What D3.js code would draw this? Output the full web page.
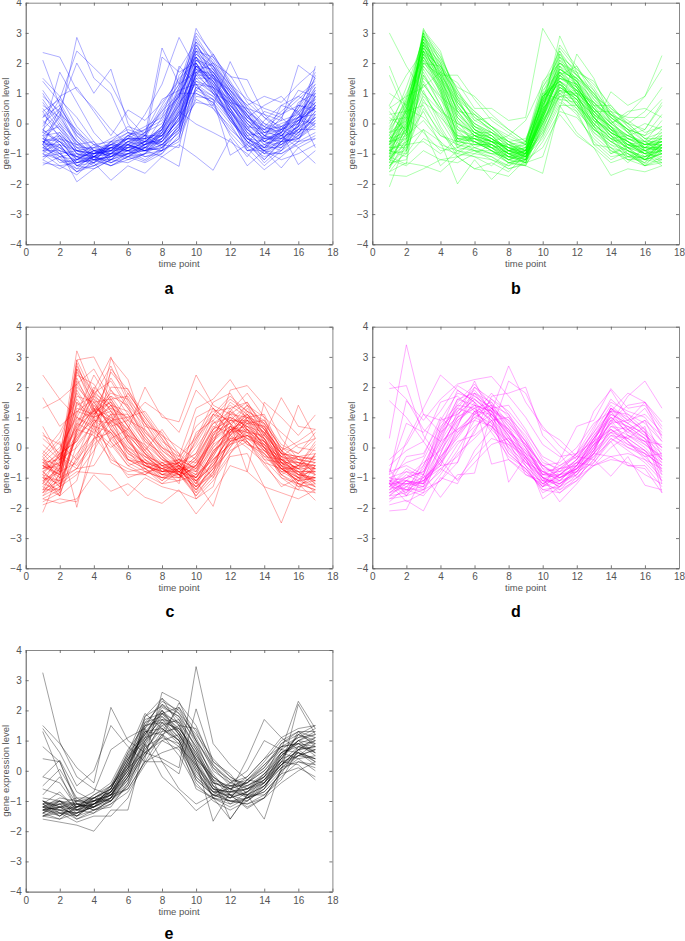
<!DOCTYPE html>
<html><head><meta charset="utf-8">
<script src="https://cdn.jsdelivr.net/npm/d3@7/dist/d3.min.js"></script>
<style>html,body{margin:0;padding:0;background:#fff}svg{display:block}</style>
</head><body><svg id="c" width="685" height="941"></svg>
<script>
const xTicks = [0,2,4,6,8,10,12,14,16,18];
const yTicks = [-4,-3,-2,-1,0,1,2,3,4];
const xTitle = "time point";
const yTitle = "gene expression level";

const seriesA = [
[2.35,2.2,1.1,0.5,-0.2,-0.7,-0.9,-0.7,-0.1,1.9,1.4,0.7,0.1,-0.4,-0.5,-0.1,0.6],
[2.1,0.6,-0.4,-0.9,-1.1,-0.8,-0.9,-0.6,0.2,2.1,1.7,1.0,0.3,-0.4,-0.7,-0.2,0.4],
[-0.4,0.2,2.85,1.5,1.0,-0.3,-0.6,-0.4,0.1,1.4,1.2,0.6,0.0,-0.5,-0.6,-0.5,-0.1],
[0.4,0.8,2.4,1.85,1.3,0.2,-0.4,-0.8,-0.3,1.1,1.6,0.9,0.2,-0.2,0.1,0.3,1.0],
[-0.7,0.5,2.0,1.0,1.8,0.0,-0.8,-0.9,-0.6,0.9,0.8,0.4,-0.3,-0.8,-0.4,0.1,0.5],
[-0.3,1.7,0.7,-0.3,-0.9,-0.9,-0.7,-0.5,0.3,1.6,2.3,1.4,0.5,-0.1,-0.4,-0.3,0.2],
[1.5,0.9,1.2,0.4,-0.4,0.45,0.1,0.7,1.4,2.6,1.9,0.8,0.0,-0.6,-0.3,0.4,1.2],
[1.1,0.3,-0.8,-1.2,-1.1,-0.7,-0.4,2.5,1.3,1.7,1.0,0.4,-0.2,-0.7,-0.5,-0.1,0.7],
[0.5,-0.2,-1.0,-1.3,-1.0,-0.9,-0.6,2.2,1.7,2.0,1.2,0.1,-0.6,-1.0,-0.7,0.0,0.9],
[-0.2,-0.6,-1.2,-0.9,-0.8,-0.5,0.3,1.3,2.85,1.8,1.6,0.9,0.3,-0.3,0.0,0.2,0.3],
[-1.38,-1.1,-1.6,-1.1,-1.0,-0.7,-0.9,-1.1,-1.42,1.3,0.6,-0.2,-0.7,-1.1,-0.9,-0.5,0.0],
[-0.6,-0.9,-1.93,-1.5,-1.2,-1.0,-1.25,-0.9,0.4,-0.02,-0.3,-0.6,-1.0,-1.53,-1.1,-0.6,-0.5],
[-0.8,-1.0,-1.4,-1.3,-1.88,-1.4,-1.65,-1.1,-0.7,-1.1,-1.55,-0.5,-1.4,-0.9,-1.47,-0.8,-1.32],
[-0.5,-0.8,-1.3,-1.1,-1.4,-1.2,-1.0,-0.9,0.0,0.7,0.6,2.05,0.9,0.2,-0.3,-1.36,-0.9],
[0.2,0.6,-0.5,-1.1,-0.6,-0.5,-0.5,0.5,1.3,2.4,2.2,1.55,1.45,0.3,0.1,1.93,1.5],
[-0.9,-1.2,-1.5,-1.4,-1.1,-0.9,-0.8,-0.4,0.5,1.9,1.4,0.5,-0.4,-0.9,-0.6,-0.1,1.9],
[-1.2,-1.5,-1.2,-0.9,-0.7,-0.4,-0.6,-0.1,1.0,2.9,2.0,1.2,0.6,0.9,0.7,1.3,1.8],
[-0.6,-0.5,-0.9,-1.0,-0.8,-0.6,-0.3,0.3,0.9,2.3,1.9,1.1,0.4,-0.1,-0.3,0.0,0.6],
[0.9,0.4,-0.7,-1.1,-1.3,-1.0,-0.8,-0.6,0.0,1.5,1.5,0.9,0.1,-0.5,-0.4,0.2,0.9],
[-0.7,-0.7,-0.9,-1.1,-0.9,-0.8,-0.7,-0.3,0.8,3.15,2.2,1.3,0.5,-0.2,-0.5,-0.2,0.3],
[-0.5,-0.6,-1.1,-1.0,-0.9,-0.4,-0.2,0.1,1.2,2.2,1.7,0.9,0.2,-0.3,-0.2,0.1,0.5],
[-1.0,-1.2,-1.3,-1.1,-0.8,-0.9,-0.6,-0.2,0.6,1.8,1.2,0.5,-0.3,-0.8,-0.8,-0.4,0.2],
[0.3,-0.2,-0.8,-0.8,-0.7,-0.5,-0.5,-0.7,-0.1,1.5,1.0,0.2,-0.6,-0.9,-0.7,-0.3,0.1],
[-0.4,-0.3,-1.0,-1.2,-1.4,-1.1,-1.0,-0.7,-0.2,1.2,0.9,0.3,-0.5,-0.9,-1.0,-0.6,-0.3],
[-0.8,-0.6,-1.2,-1.3,-1.0,-0.6,-0.8,-0.9,-0.5,2.0,1.3,0.6,0.1,-0.2,-0.1,0.4,0.8],
[0.0,0.5,-0.3,-0.7,-0.9,-0.4,-0.1,0.2,0.9,2.7,2.1,1.2,0.3,-0.4,-0.6,-0.5,0.1],
[-1.1,-0.8,-1.1,-1.2,-1.1,-0.8,-0.5,-0.4,0.4,1.6,1.1,0.2,-0.8,-1.4,-0.9,-0.3,0.4],
[-0.6,-1.0,-1.6,-1.3,-0.9,-1.2,-1.0,-0.5,0.7,2.5,1.6,0.8,0.0,-0.5,-0.3,0.3,1.1],
[-0.9,-0.4,-0.8,-1.0,-0.7,-0.7,-0.9,-0.8,-0.3,1.0,0.7,0.0,-0.9,-0.7,-0.4,-0.8,-0.5],
[1.4,0.7,-0.3,-0.9,-0.8,-0.9,-1.1,-0.9,-0.5,2.1,1.5,0.7,-0.2,-0.6,-0.8,-0.2,0.6],
[-0.2,-0.7,-1.4,-1.1,-1.2,-0.7,-0.6,-0.2,1.6,2.2,1.3,0.4,-0.4,-0.3,-0.1,0.1,0.7],
[-0.7,0.3,-0.2,-0.9,-1.0,-0.6,-0.4,-0.6,0.2,1.7,2.0,1.6,0.7,0.2,-0.1,-0.4,0.0],
[-1.3,-1.4,-1.7,-1.2,-0.8,-0.5,-0.7,-0.5,0.1,1.9,1.8,1.0,0.1,-0.4,-0.2,0.5,1.3],
[-0.5,-0.9,-1.1,-0.7,-0.6,-0.1,-0.3,0.0,1.1,2.4,1.4,0.6,-0.1,-0.7,-0.9,-0.1,1.6],
[0.6,0.2,-0.6,-1.0,-1.0,-1.1,-0.8,-0.3,0.3,1.4,1.0,0.1,-0.5,-0.8,-0.3,0.6,0.5],
[-0.8,-1.1,-1.0,-1.1,-1.3,-1.0,-0.7,-0.6,0.0,2.8,1.9,1.0,0.2,-0.1,0.4,0.9,0.6],
[-0.6,-0.8,-1.3,-1.2,-0.8,-0.8,-0.4,0.6,1.5,2.0,1.1,0.3,-0.7,-1.2,-0.6,-0.2,-0.2],
[-1.0,-0.5,-0.7,-0.9,-0.9,-0.5,-0.6,-0.1,0.9,2.3,1.7,0.8,0.3,-0.6,-0.2,0.0,0.8],
[0.1,-0.4,-1.1,-1.4,-1.2,-0.9,-0.9,-0.7,-0.8,1.7,1.3,0.5,-0.2,0.4,0.2,-0.3,0.2],
[-0.4,-1.0,-1.5,-1.0,-0.7,-0.9,-1.2,-0.8,0.5,2.6,1.8,1.1,0.4,-0.3,-0.4,0.1,1.2],
[-0.7,-1.3,-1.2,-0.8,-1.0,-0.6,-0.5,-0.2,1.9,1.3,0.9,0.2,-0.6,-1.0,-0.5,0.7,1.0],
[0.7,-0.1,-0.9,-1.2,-1.1,-0.6,-0.7,-0.4,0.4,2.2,1.6,0.6,-0.1,-0.2,0.3,0.6,0.4],
[-0.9,-0.7,-1.4,-1.1,-0.7,-0.8,-0.8,-0.5,0.6,1.9,1.1,0.4,-0.5,-0.6,-0.7,-0.4,0.9],
[-0.3,-0.6,-0.9,-1.0,-0.6,-0.3,-0.4,0.4,1.3,3.0,2.3,1.3,0.4,0.0,-0.2,0.2,0.5],
[-0.6,-0.4,-1.2,-1.1,-1.0,-1.0,-0.9,-0.8,-0.1,1.2,0.8,-1.05,-0.7,0.1,0.6,0.9,1.4],
[-0.1,0.8,0.2,-0.6,-1.3,-1.1,-0.8,-0.2,0.9,2.1,1.9,1.3,0.8,0.5,0.3,0.8,1.3],
[1.0,0.1,-0.6,-1.2,-1.4,-1.1,-0.7,-0.1,1.0,1.0,0.7,-0.4,-1.1,-0.4,0.2,1.1,0.9],
[-1.2,-0.7,-1.4,-1.5,-1.2,-0.7,-0.3,0.8,1.1,1.3,0.5,-0.3,-0.9,-0.9,-1.2,-1.0,-0.7],
[-0.5,0.0,-0.6,-1.1,-0.8,-0.7,-1.1,-1.0,-0.4,0.8,0.5,-0.1,-0.8,-0.5,0.6,0.4,-0.8],
[0.2,0.9,-0.1,-0.7,-1.2,-1.3,-1.0,-0.3,1.2,2.5,2.0,1.1,0.2,0.6,0.9,0.3,-0.1],
[-0.9,-0.9,-1.1,-1.3,-0.6,-0.9,-0.6,-0.7,-0.2,1.7,1.7,0.9,-0.1,-1.0,-1.0,-0.7,-0.4],
[-0.3,-0.1,-0.7,-0.6,-1.1,-1.0,-0.9,-0.2,0.7,1.3,1.2,0.8,-0.2,-0.6,-0.3,0.5,1.7],
[-0.7,-1.2,-1.6,-1.4,-1.0,-0.4,-0.7,0.2,1.8,2.7,1.5,0.5,-0.5,-0.8,-0.1,0.2,0.7],
[-1.1,-1.0,-0.9,-0.8,-0.5,-0.2,-0.4,-0.4,0.3,2.0,1.0,0.7,0.5,0.3,-0.2,-0.5,0.3],
[0.4,-0.5,-1.3,-1.0,-0.8,-1.1,-1.3,-1.0,-0.2,1.8,1.4,0.4,-0.4,-1.2,-0.6,0.2,1.1],
[-0.8,-0.3,-1.0,-1.1,-0.7,-0.3,-0.5,-0.3,0.6,2.4,1.8,0.7,-0.3,-0.5,-0.5,-0.6,0.6],
[-0.6,-1.1,-1.2,-0.9,-1.1,-0.8,-0.6,-0.6,0.2,1.1,0.8,0.1,-0.6,-1.3,-0.8,0.0,1.0],
[-0.2,0.4,-0.4,-1.0,-0.9,-0.5,-0.2,0.4,1.0,1.9,1.5,1.1,0.6,0.0,-0.4,-0.1,0.2],
[-1.0,-1.4,-1.3,-1.2,-1.2,-1.0,-0.7,-0.4,0.8,2.2,1.2,0.2,-0.5,-0.9,-0.2,0.6,1.5],
[0.8,0.0,-0.9,-1.0,-0.9,-0.7,-0.9,-0.5,0.1,1.6,1.6,0.3,-0.9,-0.8,-0.6,0.1,0.0]
];

const seriesB = [
[3.0,1.9,1.0,0.4,0.0,-0.3,-0.6,-1.0,-1.0,0.7,1.6,1.1,0.4,-0.1,-0.4,-0.7,-0.5],
[1.9,0.5,0.2,-0.4,-0.7,-0.8,-1.0,-1.1,-1.2,0.3,1.2,0.9,0.2,-0.3,-0.6,-0.9,-0.8],
[1.6,0.3,1.3,0.5,-0.5,-0.6,-0.8,-1.2,-0.9,0.9,1.4,0.6,0.0,-0.5,-0.7,-0.8,-0.3],
[0.6,1.6,2.4,1.6,1.6,0.8,0.1,-0.3,-0.7,0.5,1.1,1.0,0.5,0.0,0.3,0.9,2.25],
[1.0,0.6,2.0,1.9,1.2,0.9,0.3,-0.2,-0.6,1.0,0.8,0.7,-0.1,1.05,0.6,0.9,1.8],
[0.5,0.9,1.2,1.7,1.35,0.5,0.5,0.1,0.2,3.15,2.2,1.3,0.6,0.3,0.0,0.4,1.2],
[-2.1,-0.6,-0.2,-0.6,-2.0,-1.2,-1.85,-1.3,-1.4,-1.65,0.6,-0.3,-0.8,-1.72,-1.5,-1.6,-1.4],
[-1.7,-1.75,-1.5,-1.2,-1.1,-1.5,-1.6,-1.75,-1.2,-0.8,0.3,-0.4,-0.8,-1.3,-1.1,-0.9,-1.2],
[-1.6,-1.3,-1.4,-1.6,-1.1,-1.5,-1.3,-1.6,-1.0,-0.3,0.9,0.8,0.3,-1.0,-0.8,-1.35,-0.9],
[-1.2,-1.4,-0.9,-1.2,-1.3,-1.0,-1.1,-1.5,-1.3,-1.1,0.5,2.3,1.5,0.2,-0.2,-0.9,-1.3],
[-0.9,-1.1,-0.5,-0.8,-1.0,-0.6,-0.8,-1.1,-0.9,0.1,1.8,1.5,0.1,-0.5,-1.2,-1.1,-1.0],
[-1.4,-1.0,-0.2,-1.4,-0.9,-1.1,-1.4,-0.9,-1.1,0.4,2.9,1.7,0.6,-0.2,-0.9,-1.2,-0.7],
[-0.5,-0.3,3.15,2.0,0.6,-0.2,-0.5,-0.8,-1.1,0.2,1.4,0.9,0.1,-0.4,-0.8,-0.9,-0.7],
[-0.9,0.5,3.0,1.8,0.4,-0.3,-0.6,-1.0,-1.2,-0.2,1.2,0.8,0.0,-0.6,-0.9,-1.2,-1.0],
[-1.2,0.1,2.8,1.6,0.2,-0.4,-0.4,-0.9,-0.9,0.3,1.7,1.2,0.4,-0.2,-0.5,-0.8,-0.6],
[-0.7,0.7,2.6,1.9,0.7,0.0,-0.3,-0.7,-1.0,0.6,2.0,1.4,0.5,-0.1,-0.7,-1.0,-0.9],
[-1.0,-0.2,2.5,1.5,-0.1,-0.5,-0.7,-1.1,-1.3,-0.1,0.9,0.5,-0.2,-0.6,-1.0,-1.3,-0.8],
[-0.4,0.9,2.9,2.2,1.0,0.2,-0.2,-0.6,-0.8,0.8,2.5,1.8,1.2,0.3,-0.2,-0.6,-0.4],
[-1.5,-0.5,2.4,1.2,-0.4,-0.6,-0.9,-1.2,-1.4,0.0,1.3,0.7,-0.1,-0.8,-1.2,-1.4,-1.1],
[-0.6,0.3,2.7,1.7,0.5,-0.1,-0.5,-0.9,-1.0,0.4,1.5,1.1,0.6,0.0,-0.4,-0.7,-0.7],
[-0.8,-0.8,2.2,1.1,-0.7,-0.4,-0.6,-1.0,-1.1,0.2,1.9,1.3,0.2,-0.3,-0.6,-1.0,-0.5],
[-0.2,0.6,2.6,2.0,0.9,0.4,-0.1,-0.5,-0.7,1.2,2.2,1.6,0.9,0.5,0.1,-0.3,-0.1],
[-1.1,-1.35,2.0,1.4,0.1,-0.7,-0.8,-1.2,-1.0,0.5,1.0,0.6,-0.4,-0.9,-1.1,-1.15,-1.2],
[-0.5,0.2,3.0,1.3,-0.2,-0.5,-0.7,-0.9,-1.2,0.7,1.6,1.0,0.7,0.2,-0.3,-0.8,-0.8],
[-1.3,-0.1,1.8,0.9,-0.8,-0.9,-1.0,-1.3,-1.4,-0.4,0.7,0.4,-0.7,-1.2,-0.9,-1.4,-1.3],
[-0.3,0.8,2.3,1.5,0.3,-0.2,-0.4,-0.7,-0.9,0.9,2.1,1.2,0.3,-0.1,-0.5,-0.6,-0.6],
[-0.9,-0.6,1.4,0.4,-0.6,-0.3,-0.5,-0.8,-0.7,1.1,1.7,1.5,1.0,0.4,-0.1,-0.5,-0.3],
[-0.7,-0.1,2.1,1.0,-0.3,-0.6,-0.9,-1.1,-0.9,0.2,1.3,0.9,0.1,-0.2,-0.6,-0.9,-1.0],
[0.2,-0.2,0.9,0.2,-0.4,-0.5,-0.8,-1.0,-1.3,0.6,1.4,1.1,0.2,-0.4,-0.8,-0.7,-0.2],
[-1.0,-0.9,0.5,-0.3,-0.9,-0.7,-0.7,-1.2,-1.1,-0.2,1.1,0.7,-0.3,-0.7,-0.9,-1.1,-0.9],
[-0.6,-0.4,0.1,-0.6,-1.1,-0.8,-1.0,-0.9,-0.8,0.8,1.8,1.4,0.8,0.1,-0.3,0.0,-0.2],
[0.1,0.2,-0.3,-0.9,-0.8,-0.4,-0.6,-0.4,0.1,1.3,2.4,1.2,0.4,-0.2,-0.7,-1.0,-0.7],
[-1.1,-0.7,-0.6,-1.0,-0.5,-0.9,-1.2,-1.4,-1.0,0.0,1.0,0.4,-0.2,-0.5,-0.8,-1.2,-1.0],
[0.4,-0.4,1.6,0.8,0.0,-0.3,-0.3,-0.6,-1.1,0.3,1.6,1.9,0.9,0.3,0.0,-0.2,0.7],
[-0.8,-0.2,1.1,-0.1,-1.0,-1.1,-1.2,-1.5,-1.35,-0.6,0.4,0.2,-0.5,-1.0,-0.7,-0.8,-0.6],
[-0.4,0.4,2.4,1.6,0.8,0.3,-0.3,-0.8,-1.0,1.0,2.3,1.7,1.4,0.5,0.0,-0.5,-0.5],
[-1.3,-0.3,2.9,2.1,1.1,0.1,-0.2,-0.7,-1.2,0.4,1.5,1.3,0.3,-0.3,-0.9,-1.1,-0.7],
[-0.7,0.1,2.7,1.4,-0.5,-0.4,-0.6,-1.0,-0.9,0.7,2.6,1.9,1.1,0.0,-0.4,-0.6,-0.9],
[-0.9,-1.0,2.5,1.8,0.6,-0.1,-0.4,-0.9,-1.1,0.1,1.2,0.8,0.0,-0.5,-0.8,-1.0,-1.1],
[-0.5,0.5,2.2,1.3,0.2,-0.3,-0.5,-1.1,-1.0,0.5,1.9,1.0,-0.1,-0.4,-1.1,-1.3,-0.4],
[-1.2,-0.6,3.05,2.3,0.9,-0.2,-0.6,-0.8,-0.9,0.9,1.4,0.6,0.1,-0.3,-0.6,-0.9,-0.6],
[-0.1,0.7,1.9,1.1,-0.2,-0.4,-0.8,-0.7,-0.6,1.4,2.0,1.5,0.7,0.2,-0.2,-0.4,0.3],
[-1.6,-0.9,1.6,0.6,-0.5,-0.6,-0.9,-1.3,-1.2,-0.3,0.8,0.3,-0.6,-1.1,-1.0,-1.2,-0.8],
[-0.6,-0.5,0.4,-0.7,-0.9,-1.0,-0.7,-1.0,-0.8,0.6,1.7,1.3,0.5,0.0,0.4,0.5,0.2],
[-0.9,0.0,2.8,1.7,0.4,-0.2,-0.5,-0.9,-1.0,0.3,2.1,1.6,1.0,0.3,-0.3,-0.8,-0.9],
[-1.4,-0.8,2.3,1.0,-0.6,-0.7,-0.7,-1.1,-1.2,0.0,1.1,0.9,0.2,-0.4,-0.7,-1.0,-0.8],
[-0.3,0.1,2.1,1.5,0.7,0.1,0.2,-0.2,-0.6,0.8,1.3,0.8,-0.2,-0.6,-0.5,-0.7,-0.6],
[-0.7,-0.3,2.6,1.2,0.0,-0.4,-0.6,-0.8,-1.1,0.2,1.6,1.1,0.3,-0.1,-0.6,-1.1,-0.7],
[-1.1,0.4,2.4,1.9,0.8,-0.1,-0.4,-1.0,-0.9,0.6,1.8,1.4,0.6,0.6,-0.1,-0.6,-1.0],
[-0.8,-0.7,1.0,0.1,-0.8,-0.5,-0.9,-1.2,-1.3,0.1,0.9,1.0,-0.7,-0.8,-1.3,-0.8,-0.9],
[0.6,-0.3,1.5,0.9,0.4,0.3,-0.1,-0.4,-0.7,0.9,1.3,0.9,0.0,-0.5,-0.4,-0.2,0.6],
[-0.4,-0.9,0.7,0.3,-0.7,-0.9,-1.1,-1.4,-1.2,0.3,1.5,1.2,0.4,-0.3,-0.7,-0.6,0.1],
[-1.2,-0.4,1.3,0.5,-0.2,-0.8,-0.6,-0.7,-1.0,-0.4,1.0,1.1,0.7,0.1,-0.6,-1.0,-1.4],
[-1.5,0.0,2.7,2.0,0.3,-0.3,-0.7,-1.1,-1.3,0.4,1.7,1.0,0.2,-0.4,-1.0,-1.4,-0.8],
[0.0,1.0,2.2,1.4,0.5,0.0,-0.3,-0.6,-0.5,0.7,2.0,1.6,1.1,0.4,-0.3,-0.7,-0.6],
[-1.0,0.2,2.9,1.6,-0.1,-0.6,-0.9,-1.2,-1.0,0.0,1.3,0.6,-0.2,-0.7,-1.1,-1.1,-0.9],
[-0.8,0.6,2.5,1.8,1.0,0.4,-0.1,-0.6,-0.9,0.8,1.9,1.5,0.9,0.2,-0.2,-0.9,-0.7],
[-1.3,-1.2,1.9,1.2,-0.4,-0.5,-0.8,-1.3,-1.2,0.2,1.6,1.2,0.4,-0.1,-0.8,-1.2,-1.0],
[-0.6,0.4,3.1,2.4,0.7,0.0,-0.4,-0.9,-1.1,0.5,2.3,1.4,0.7,0.0,-0.5,-0.7,-0.5],
[-0.3,-0.1,1.7,0.6,-0.6,-0.5,-0.6,-0.9,-0.6,1.2,2.0,1.7,0.8,0.3,-0.2,-0.4,-0.1],
[-1.1,0.3,2.6,1.3,0.1,-0.4,-0.7,-1.0,-1.3,0.1,1.1,0.5,-0.3,-0.8,-1.0,-1.4,-1.2],
[-0.9,-0.5,2.3,1.7,0.6,-0.2,-0.5,-0.9,-0.8,0.9,1.5,1.3,0.5,-0.2,-0.7,-0.9,-0.6],
[-0.2,1.2,2.8,2.1,0.8,-0.1,-0.3,-0.8,-1.0,0.4,2.2,1.8,1.3,0.6,0.0,-0.5,-0.8],
[-1.4,-0.7,0.8,-0.2,-1.1,-0.9,-0.9,-1.3,-1.1,-0.5,0.6,0.6,-0.1,-0.9,-1.2,-1.2,-1.3],
[0.3,0.4,0.6,-0.4,-0.6,-0.7,-0.5,-0.9,-0.7,1.0,1.4,0.9,0.4,0.4,0.2,0.2,0.8],
[-0.7,0.8,2.9,1.9,0.9,0.2,-0.2,-0.7,-0.9,0.6,1.7,1.1,0.2,-0.3,-0.6,-0.8,-0.4],
[-1.2,-0.3,2.4,1.1,-0.5,-0.5,-0.7,-1.0,-1.2,-0.1,1.4,1.0,0.5,-0.1,-0.8,-1.0,-0.9],
[-0.5,0.0,2.0,1.6,0.4,-0.3,-0.6,-0.8,-1.0,0.3,1.8,1.4,0.3,-0.2,-0.4,-0.7,-0.7],
[-1.0,0.5,2.7,1.5,0.2,-0.4,-0.8,-1.1,-1.1,0.2,1.2,0.8,-0.1,-0.6,-0.9,-1.2,-0.7],
[-0.6,-0.2,3.0,2.2,1.1,0.3,-0.1,-0.6,-0.9,0.7,2.4,1.6,1.0,0.1,-0.5,-0.8,-0.8]
];

const seriesC = [
[2.4,1.6,1.0,0.7,0.5,-0.1,-0.5,-0.7,-0.9,-0.5,0.2,0.7,0.5,0.2,-0.4,-0.5,-0.7],
[1.65,0.7,1.2,1.0,1.2,0.4,-0.2,-0.6,-0.8,-1.0,-0.3,0.6,0.7,0.1,-0.6,-0.9,-1.0],
[1.3,1.6,2.1,1.2,0.9,0.1,-0.6,-0.8,-0.5,0.4,1.1,1.7,1.2,0.4,-0.2,-0.3,-0.4],
[0.7,-0.3,0.7,1.9,3.0,1.6,0.5,0.0,-0.6,-1.3,-0.7,0.1,0.5,0.4,-0.2,-0.6,-0.9],
[0.5,-0.4,3.2,1.8,1.4,0.4,0.1,-0.4,-0.7,-0.6,0.4,1.2,0.8,0.0,-0.7,-1.1,-0.6],
[-2.15,-0.8,2.9,3.0,1.9,1.1,0.3,-0.3,-0.8,-1.2,-0.1,0.4,1.0,0.6,-0.4,-0.7,-1.2],
[-0.4,0.2,-1.98,0.3,2.95,2.25,0.6,-0.2,-0.9,-1.6,-0.8,0.2,0.6,0.2,-0.3,-0.4,-0.5],
[-1.9,-1.7,-1.8,-0.2,2.6,1.9,1.1,0.3,-0.4,-1.1,-1.95,-0.2,0.4,0.0,-1.0,-1.2,-1.75],
[-1.7,-1.85,-1.7,-0.9,-1.45,-1.2,-1.65,-1.85,-1.4,-2.2,-1.5,-0.6,-0.8,-1.3,-1.5,-1.7,-1.4],
[-1.5,-1.2,-0.8,-0.85,-0.9,-1.6,-1.0,-1.3,-1.45,-1.7,-1.1,-0.3,-0.2,-1.3,-2.5,-1.1,-1.0],
[-0.6,-1.0,-0.7,-0.6,0.3,0.6,2.0,1.0,0.85,2.4,1.4,1.1,1.0,0.5,-0.2,1.4,0.3],
[-0.8,-1.3,0.4,1.4,0.7,0.9,1.5,1.1,0.5,1.9,1.3,0.8,-0.8,1.5,1.0,0.4,1.08],
[-1.2,-0.6,1.5,1.0,2.0,1.95,0.8,0.4,-0.3,1.3,1.6,2.25,1.4,0.4,1.65,0.7,0.6],
[-1.0,-1.5,2.7,1.6,1.1,0.2,-0.4,-0.8,-0.6,-0.9,0.1,1.9,2.05,1.4,0.3,-0.4,-0.5],
[-0.7,-0.5,2.5,1.5,0.7,-0.2,-0.6,-0.9,-0.7,-1.4,-0.6,0.2,0.9,0.7,-0.5,-0.8,-1.1],
[-1.4,-1.1,2.8,1.3,0.3,-0.3,-0.6,-0.8,-0.8,-1.0,-0.2,0.5,1.1,0.5,-0.6,-1.2,-1.4],
[-0.9,-0.2,2.6,1.8,0.9,0.5,-0.1,-0.6,-0.4,-0.5,0.6,0.9,1.4,0.8,0.0,-0.4,-0.3],
[-0.5,-0.8,2.3,1.1,1.5,0.9,0.2,-0.2,-0.7,-0.8,0.3,1.0,0.7,0.3,-0.5,-0.9,-0.8],
[-1.7,-1.4,2.0,1.4,0.8,-0.1,-0.5,-1.0,-0.9,-1.5,-0.4,0.3,0.4,0.1,-0.9,-1.3,-1.2],
[-0.3,0.3,1.8,0.9,0.5,-0.4,-0.7,-1.1,-0.6,-0.2,0.8,1.2,0.6,-0.1,-0.7,-1.0,-0.2],
[-1.1,-0.7,0.9,1.2,1.8,1.6,0.9,0.1,-0.5,-1.2,-0.5,0.4,0.8,0.9,-0.1,-0.6,-0.7],
[-0.6,-0.9,0.3,1.0,2.5,1.8,1.0,0.3,-0.7,-1.0,0.0,0.6,0.3,0.1,-0.4,-0.7,-0.9],
[-1.3,-1.6,0.1,0.8,1.4,1.2,0.4,-0.3,-0.9,-1.4,-0.8,0.0,0.7,0.5,-0.3,-1.0,-1.3],
[-0.8,-0.3,0.6,1.5,1.6,0.8,0.0,-0.5,-0.4,-0.7,0.5,0.8,1.1,0.3,-0.5,-0.5,-0.6],
[-1.0,-1.2,-0.4,0.7,1.9,1.3,0.5,-0.1,-0.6,-1.1,-0.3,0.7,0.4,-0.2,-0.8,-1.1,-1.0],
[-0.4,-0.6,0.8,1.9,1.2,0.2,-0.3,-0.7,-1.0,-0.6,0.2,1.1,1.5,0.7,-0.2,-0.3,-0.4],
[-1.6,-1.0,-0.2,0.5,1.0,0.6,-0.2,-0.9,-0.9,-1.3,-0.7,-0.1,0.2,-0.4,-1.0,-1.4,-1.5],
[-0.7,-0.1,1.1,2.4,1.5,0.7,-0.1,-0.8,-0.8,-0.3,0.9,1.4,1.0,0.2,-0.6,-0.8,-0.8],
[-1.2,-1.4,0.5,1.3,0.2,-0.4,-0.5,-0.7,-0.5,-1.2,-0.1,0.3,0.9,0.4,-0.4,-0.9,-1.1],
[-0.5,-0.4,1.4,1.7,1.3,0.3,-0.4,-0.9,-0.8,-0.4,0.7,0.5,0.6,0.0,-0.9,-0.6,0.1],
[-0.9,-1.1,-0.7,0.3,0.9,0.4,-0.7,-1.0,-1.1,-0.9,-0.4,0.1,0.3,-0.2,-0.7,-1.0,-0.7],
[0.3,-0.2,0.2,1.1,1.7,0.9,0.6,0.0,-0.3,0.3,1.0,1.6,1.2,0.9,0.1,-0.2,0.5],
[-1.5,-0.9,1.2,1.6,0.6,-0.2,-0.5,-1.1,-0.7,-1.3,-0.2,0.6,0.5,-0.1,-0.6,-1.3,-0.9],
[-0.6,-0.7,1.9,1.0,-0.3,-0.9,-0.9,-0.6,-0.5,0.1,1.1,0.9,0.8,0.3,-0.3,-0.5,-0.6],
[0.1,-0.4,0.4,0.9,0.8,1.8,1.0,0.2,-0.2,-0.8,0.4,1.3,0.6,-0.4,-0.5,-0.8,-1.2],
[-0.8,-1.3,0.7,1.2,2.3,1.4,0.7,0.5,-0.6,-1.5,-0.9,0.0,1.0,1.1,-0.1,-0.9,-0.5],
[-1.1,-0.8,-0.5,0.6,1.1,-0.4,-0.6,-0.9,-1.0,-0.6,0.3,0.7,0.2,-0.3,-0.8,-0.6,-0.3],
[-0.2,0.5,1.6,0.8,-0.2,-1.0,-0.8,-1.0,-0.7,0.0,0.8,1.0,0.7,0.1,-0.5,-0.7,0.0],
[-1.8,-1.5,-0.3,1.0,1.3,1.0,0.3,-0.4,-0.8,-1.1,-0.6,0.2,0.4,-0.1,-0.7,-1.1,-1.3],
[-0.7,-0.6,2.2,1.3,0.4,-0.5,-0.8,-0.7,-0.9,-0.7,0.1,0.5,1.3,0.6,-0.2,-0.4,-0.7],
[-1.0,-0.4,0.0,0.8,1.6,1.7,0.8,-0.1,-0.5,-1.0,-0.2,0.9,0.9,0.2,-0.6,-1.0,-1.0],
[-0.4,-1.0,1.0,2.0,1.4,0.5,-0.3,-0.5,-0.9,-0.4,0.6,1.1,0.5,-0.3,-0.4,-0.7,-0.4],
[-1.3,-0.7,2.9,1.7,0.8,0.0,-0.5,-0.9,-0.6,-1.1,-0.5,0.4,1.2,0.8,-0.5,-1.2,-1.1],
[-0.6,-0.2,0.2,1.3,1.0,0.3,-0.6,-0.8,-0.7,0.2,1.3,0.8,0.3,0.0,-0.6,-0.3,-0.2],
[-0.9,-1.6,0.6,0.4,-0.4,-0.7,-0.9,-1.2,-0.8,-1.6,-1.0,-0.2,0.6,0.3,-0.8,-0.8,-0.8],
[-1.4,-0.5,2.4,2.1,1.2,0.6,0.0,-0.6,-0.5,-0.8,0.0,0.6,0.9,0.5,-0.3,-0.6,-0.6],
[-0.5,-0.9,1.3,1.1,1.7,1.4,0.2,-0.4,-0.6,-0.9,0.4,0.8,0.1,-0.2,-0.9,-1.2,-1.4],
[-0.7,-0.3,-0.7,0.1,0.6,0.0,-0.3,-0.7,-0.4,0.7,1.2,1.3,1.5,0.6,-0.1,0.2,0.6],
[0.4,0.1,-0.4,0.3,0.5,-0.4,-0.7,-0.5,-0.9,-1.3,-0.9,1.2,1.8,1.0,0.5,0.0,-0.1],
[-1.6,-1.3,-0.9,-0.1,0.9,1.0,1.2,0.4,0.0,-0.4,-1.0,0.3,0.2,-0.5,-0.7,-0.6,0.2],
[-0.2,-0.8,0.8,0.5,0.0,0.4,-0.2,-0.6,-1.2,1.0,1.3,0.4,0.0,-0.5,-1.3,-1.0,-1.1],
[-1.1,-1.6,-1.1,0.9,1.4,0.7,-0.1,0.6,-0.2,-1.7,-1.3,0.5,1.1,0.6,-0.1,-0.5,-0.8],
[-0.8,-0.5,1.7,1.5,0.6,-0.1,-0.8,-1.0,-1.0,0.3,1.5,1.8,0.9,0.0,-0.3,0.1,0.3],
[-1.5,-0.7,2.6,1.2,0.2,-0.6,-0.4,-0.7,-0.6,-1.0,-0.4,0.1,0.8,0.7,-0.2,-0.8,-1.3],
[-0.3,-1.2,0.5,1.8,2.2,1.3,0.4,-0.3,-0.8,-0.6,0.5,1.0,0.2,-0.6,-1.2,-1.4,-0.6],
[-1.2,-0.2,-0.6,0.2,1.1,1.1,0.1,-0.8,-0.7,-1.4,-0.7,0.7,1.4,1.0,-0.4,-0.3,-0.9],
[-0.6,-0.9,1.5,0.7,-0.5,-0.8,-0.7,-1.2,-1.1,0.5,0.9,0.2,0.4,0.2,-0.7,-1.1,-0.2],
[-1.0,-1.1,2.1,2.6,1.6,0.7,-0.2,-0.8,-0.5,-0.2,1.1,0.6,0.1,-0.1,-0.4,-0.9,-1.0],
[-0.1,-0.6,0.3,1.2,1.5,0.2,-0.5,-0.6,-0.9,-1.1,-0.6,0.5,1.0,0.8,0.0,-0.2,0.3],
[-1.4,-1.4,0.6,1.7,2.7,1.5,0.8,0.0,-0.4,-0.7,0.2,0.9,0.6,0.0,-0.5,-1.0,-1.5],
[-0.5,0.0,1.0,0.6,0.1,-0.6,-0.9,-0.5,-0.8,-0.3,0.6,1.5,1.1,0.3,-0.7,-0.7,-0.7]
];

const seriesD = [
[2.15,1.6,0.6,0.2,0.6,0.9,0.7,0.2,-0.2,-0.6,-0.9,-0.7,-0.2,0.5,0.7,0.3,-0.4],
[1.95,2.05,0.4,-0.4,-1.1,-0.5,0.1,0.3,-0.1,-0.8,-1.1,-0.6,0.1,0.6,0.3,-0.1,-0.5],
[1.55,1.0,0.2,-0.6,-0.5,1.2,1.4,1.1,0.0,-0.9,-0.6,-0.3,0.3,1.1,0.8,0.4,0.0],
[0.3,3.4,1.1,0.5,1.0,1.4,1.2,0.4,-0.5,-1.1,-0.7,-0.2,0.2,0.8,1.7,2.2,1.3],
[-0.9,1.55,0.9,1.6,2.1,2.25,2.35,1.7,1.0,0.1,-0.3,-0.2,0.5,1.2,1.8,1.5,0.85],
[-1.2,0.2,1.3,2.4,1.9,1.5,-0.55,-0.4,-0.8,-1.3,-0.4,0.7,0.9,1.95,1.3,1.4,0.6],
[-2.1,-2.05,-0.9,-1.65,-0.9,-0.85,1.2,2.7,1.5,0.7,0.05,-0.4,0.2,1.3,0.9,0.6,-1.5],
[-1.9,-1.75,-2.1,-1.0,-1.2,-0.1,0.6,2.2,1.8,0.6,0.25,-0.3,-0.4,-0.95,-0.3,-1.25,-1.4],
[-1.7,-1.6,-1.4,-0.7,-0.3,0.5,1.7,1.8,2.0,0.4,-0.2,-1.0,-0.6,-0.3,-0.6,-0.7,-1.5],
[-1.5,-1.1,-1.2,-0.5,0.6,1.1,1.4,-1.15,-0.3,-1.7,-1.3,-0.7,-0.2,0.4,0.1,-0.2,-1.1],
[-1.2,-1.2,-1.0,0.0,1.0,2.2,1.0,0.3,-0.3,-1.0,-1.8,-1.2,-0.5,0.2,0.6,0.9,-0.3],
[-1.1,-1.0,-0.8,0.3,1.4,1.9,1.2,0.5,0.0,-0.8,-1.0,-0.7,0.1,1.0,0.5,0.2,-0.5],
[-1.3,-1.4,-1.1,-0.4,0.8,1.5,1.0,0.2,-0.4,-1.2,-1.4,-0.9,-0.1,0.9,0.7,0.3,-0.2],
[-1.6,-1.2,-1.3,-0.2,1.2,1.7,1.3,0.6,-0.1,-0.9,-0.9,-0.5,0.3,1.3,1.0,0.5,-0.8],
[-1.0,-1.1,-0.6,0.5,1.6,1.4,0.9,0.0,-0.5,-1.0,-1.2,-0.8,0.0,0.7,0.4,0.0,-0.6],
[-1.4,-0.9,-1.2,0.1,0.9,1.3,1.5,0.8,0.2,-0.7,-0.8,-0.4,0.4,1.2,1.1,0.8,0.2],
[-0.8,-0.6,-0.9,0.9,1.8,1.6,1.1,0.4,-0.3,-1.1,-1.1,-0.6,0.2,0.6,0.2,-0.4,-1.0],
[-1.2,-1.6,-1.0,-0.6,0.4,1.0,0.7,-0.2,-0.7,-1.4,-1.5,-1.0,-0.4,0.3,0.0,-0.3,-0.9],
[-1.8,-1.3,-0.7,0.4,1.3,2.0,1.6,1.0,0.4,-0.5,-0.7,-0.3,0.5,1.4,0.9,1.5,0.3],
[-1.1,-1.4,-1.3,-0.8,0.1,0.7,1.1,0.5,-0.2,-0.9,-1.0,-0.7,-0.3,0.4,0.3,-0.1,-0.7],
[-0.6,-0.1,0.2,1.5,1.7,1.2,0.7,0.1,-0.6,-1.2,-0.9,-0.4,0.6,1.6,1.1,0.6,0.0],
[-1.5,-1.1,-1.4,-1.1,-0.2,0.3,0.9,1.0,0.2,-0.6,-0.5,0.0,0.8,1.2,0.6,0.1,-0.4],
[-1.3,-1.0,-0.5,-0.1,0.7,1.8,1.3,0.7,0.1,-1.0,-1.3,-0.8,-0.1,0.5,0.3,0.7,-1.2],
[-0.4,0.1,1.1,0.9,1.1,1.6,1.2,0.3,-0.4,-1.3,-1.1,-0.5,0.1,0.8,0.2,-0.2,-0.6],
[-1.2,-1.8,-1.5,-1.1,-0.5,0.6,1.3,1.4,0.6,-0.4,-0.8,-0.6,0.3,1.0,0.5,0.9,0.4],
[-1.6,-1.5,-0.9,0.2,1.5,2.1,1.4,-0.1,-0.6,-1.5,-1.2,-0.9,-0.3,0.2,-0.6,-0.6,-1.3],
[-1.0,-0.8,-1.1,-0.3,0.3,1.1,1.8,1.1,0.3,-0.7,-1.4,-1.1,-0.6,0.0,0.4,0.1,-0.3],
[-1.4,-1.2,-1.2,0.6,1.9,1.5,0.8,-0.4,-0.9,-1.2,-1.0,-0.7,0.0,1.1,0.8,0.4,-0.1],
[-0.9,-0.5,-0.3,1.0,0.5,1.2,0.6,0.0,-0.8,-1.3,-0.9,-0.8,-0.5,0.3,-0.1,-0.5,-1.1],
[-1.7,-1.4,-1.6,-0.9,-0.1,0.9,1.6,1.2,0.5,-0.3,-0.6,-0.2,0.7,1.5,1.2,1.0,0.2],
[-1.1,-1.5,-0.4,0.7,1.2,1.8,1.0,0.6,-0.2,-1.1,-1.5,-1.1,-0.2,0.6,0.1,-0.1,-0.8],
[-1.3,-0.7,-1.0,-0.5,0.2,0.4,0.9,0.2,-0.5,-0.8,-0.7,-0.5,-0.6,-0.4,-0.5,-0.9,-1.2],
[-0.8,0.8,0.5,1.2,2.05,1.7,1.3,0.8,0.1,-0.6,-1.0,-0.6,0.3,0.9,1.4,1.5,0.7],
[-1.5,-1.3,-1.1,-0.7,-1.05,-0.3,0.3,0.1,-0.3,-1.0,-1.2,-0.8,-0.2,-0.3,-0.2,-0.4,-0.7],
[-1.2,-0.3,-0.2,0.8,1.4,1.3,0.5,-0.3,-0.7,-1.4,-1.3,-1.0,-0.4,0.7,0.6,0.2,0.1],
[-1.0,-1.3,-1.5,-0.2,0.9,1.4,1.2,0.9,0.2,-0.9,-0.8,-0.2,1.2,1.9,1.0,0.5,-0.4],
[-1.2,-1.1,-1.2,-0.4,0.5,1.0,1.3,0.9,0.0,-1.0,-0.9,-0.5,-0.1,1.3,0.6,0.3,-0.9],
[-1.4,-1.0,-0.8,0.2,1.1,1.6,1.1,0.4,-0.6,-1.2,-0.7,-0.6,0.0,0.8,0.9,1.1,0.5],
[-1.1,-1.2,-1.1,-0.6,0.7,2.0,1.4,0.7,-0.3,-0.8,-1.1,-0.9,-0.2,1.2,0.4,0.2,-0.4],
[-0.7,-1.6,-0.6,0.6,1.3,1.1,0.8,0.2,-0.9,-1.1,-1.2,-0.7,0.1,0.5,0.0,-0.2,-0.6],
[-1.6,-1.1,-1.3,0.0,1.0,1.3,0.9,-0.2,-0.7,-1.3,-0.9,-0.4,0.4,1.0,0.7,0.5,0.0],
[-1.3,-0.8,-0.9,0.4,1.6,1.8,1.5,0.5,0.1,-0.6,-1.0,-0.8,-0.1,0.9,0.2,-0.3,-0.2],
[-1.2,-1.4,-1.4,-0.3,0.4,1.2,1.1,0.6,-0.4,-1.0,-1.3,-0.6,0.2,1.3,0.8,1.3,0.4]
];

const seriesE = [
[3.25,0.95,-0.2,-0.6,-0.8,-0.6,0.3,1.2,0.8,-0.2,-0.8,-1.0,-0.9,-0.5,0.2,0.7,0.8],
[1.5,0.9,0.1,-0.4,2.1,1.0,0.6,0.4,0.1,3.45,0.9,0.2,-0.3,-0.4,0.2,0.5,0.4],
[1.4,0.6,-0.5,0.0,1.5,0.8,0.3,0.3,-0.1,2.05,0.3,-0.1,-0.8,-1.6,0.1,0.6,0.3],
[1.3,-0.1,-1.3,-1.2,-0.5,0.1,0.6,1.0,1.2,0.3,-1.67,-0.7,0.4,1.7,1.1,0.7,1.0],
[0.8,0.3,-1.1,-0.9,-1.0,-0.2,0.9,-0.2,-0.7,-1.32,-0.9,-1.6,-0.8,-0.3,0.4,1.2,1.5],
[0.4,0.3,-1.0,-0.7,0.7,1.1,1.4,0.3,-0.6,-1.1,-0.8,-0.4,0.0,1.0,0.7,2.3,1.4],
[-1.6,-1.7,-1.8,-2.0,-1.3,-1.3,0.9,1.9,1.2,0.4,-0.3,-0.8,-1.25,-0.9,0.0,2.2,1.2],
[-1.5,-1.4,-1.7,-1.5,-1.5,-0.9,0.4,2.6,2.3,1.0,-0.3,-1.6,-0.8,-0.8,-0.3,0.7,0.8],
[-1.3,-1.2,-1.5,-1.3,-1.2,-0.4,1.8,2.4,1.5,1.4,0.3,-0.2,-0.5,-0.2,0.6,0.9,1.1],
[-1.2,-1.3,-1.2,-1.0,-0.8,0.1,1.2,2.1,1.8,0.7,-0.5,-0.8,-0.6,-0.3,0.5,1.0,0.9],
[-1.1,-1.1,-1.3,-1.1,-0.7,0.2,1.4,2.0,1.5,0.4,-0.6,-0.9,-0.7,-0.2,0.3,0.8,0.6],
[-1.4,-1.0,-1.1,-1.2,-0.9,-0.1,1.0,1.8,1.3,0.2,-0.7,-0.7,-0.8,-0.5,0.1,0.5,0.7],
[-1.0,-1.4,-1.4,-0.9,-0.6,0.4,1.6,2.2,1.9,0.9,-0.2,-0.6,-0.4,0.0,0.7,1.1,1.2],
[-1.3,-1.5,-1.0,-1.0,-0.8,0.0,0.9,1.6,1.1,0.0,-0.8,-1.0,-1.0,-0.6,0.0,0.4,0.5],
[-1.2,-1.1,-1.6,-1.3,-1.0,-0.3,0.7,1.5,1.7,0.5,-0.4,-0.5,-0.5,-0.1,0.4,1.2,1.0],
[-1.5,-1.2,-1.2,-0.8,-0.5,0.5,1.7,1.9,1.4,0.6,-0.5,-0.9,-0.3,0.1,0.9,1.3,1.3],
[-0.2,-0.4,-1.2,-1.1,-0.7,0.3,1.5,2.3,2.0,1.1,0.0,-0.4,-0.6,-0.4,0.2,0.6,0.4],
[-0.5,0.05,-0.9,-1.2,-0.9,-0.2,0.8,1.7,1.6,0.3,-0.9,-1.1,-0.9,-0.7,-0.1,0.1,-0.2],
[-1.1,-0.7,-1.3,-1.4,-1.1,-0.5,0.5,1.3,2.1,1.0,0.1,-0.3,-0.9,-0.4,0.6,1.0,0.6],
[-0.9,-1.0,-1.5,-1.1,-0.6,0.6,1.9,1.4,1.0,-0.1,-0.7,-1.0,-1.1,-0.8,-0.2,0.3,0.1],
[-1.4,-1.6,-1.4,-1.2,-0.8,0.2,1.1,2.2,1.7,0.8,-0.4,-0.6,-0.2,0.4,1.1,1.4,1.5],
[-1.2,-0.9,-1.0,-0.9,-0.7,0.0,1.3,1.2,0.5,-0.5,-0.9,-1.2,-0.9,-0.6,0.3,0.2,-0.3],
[-1.0,-1.2,-1.1,-1.0,-1.0,-0.4,0.6,1.1,2.25,1.5,0.2,-0.3,-0.4,0.2,0.8,0.9,0.8],
[-1.3,-1.4,-1.3,-1.1,-0.9,0.1,1.6,1.8,1.2,0.1,-0.6,-0.7,-0.6,-0.3,0.2,0.7,1.1],
[-0.2,0.35,-0.7,-1.0,-0.8,-0.1,0.7,1.4,0.9,-0.3,-0.8,-0.8,-1.2,-0.9,-0.4,0.0,0.3],
[-1.5,-1.3,-1.6,-1.4,-0.9,-0.6,0.3,0.6,0.8,0.2,-0.5,-1.1,-0.7,-0.1,0.5,0.9,0.6],
[-1.1,-1.0,-1.2,-0.8,-0.4,0.7,1.5,1.6,1.4,0.7,-0.3,-0.5,-0.4,0.0,0.6,0.8,0.7],
[-1.2,-1.5,-1.1,-1.3,-1.1,-0.7,0.2,1.0,0.7,-0.4,-1.0,-1.3,-1.0,-0.5,0.1,0.3,0.2],
[-1.4,-1.1,-0.9,-0.9,-0.6,0.4,1.2,2.0,1.3,0.5,-0.2,-0.7,-0.5,-0.2,0.9,1.2,0.9],
[-1.0,-1.3,-1.4,-1.2,-0.7,0.3,1.8,2.15,1.8,1.0,0.2,-0.4,-0.2,0.4,0.8,1.1,1.4],
[-1.3,-1.2,-1.0,-1.1,-0.8,-0.2,1.0,1.5,1.0,-0.2,-0.7,-0.6,-0.8,-0.4,0.4,0.6,0.4],
[-1.1,-1.4,-1.5,-1.0,-0.5,0.2,1.3,1.9,1.6,0.8,-0.1,-0.8,-1.0,-0.6,0.5,1.0,1.2],
[-0.6,-0.8,-1.2,-1.1,-0.9,-0.3,0.5,1.2,1.5,0.3,-0.6,-0.9,-0.7,-0.3,0.3,0.5,0.9],
[-1.2,-1.0,-1.3,-0.9,-0.6,0.5,1.1,1.7,1.1,0.1,-0.9,-0.5,-0.3,0.3,1.0,1.3,0.8],
[-1.5,-1.6,-1.2,-1.0,-0.7,0.1,1.4,2.4,1.9,1.2,0.4,-0.2,-0.6,-0.1,0.6,0.4,0.0],
[-1.2,-1.3,-1.4,-1.1,-0.8,-0.1,1.1,1.3,1.4,0.6,-0.4,-0.6,-0.9,-0.7,-0.1,0.8,1.0],
[-1.3,-1.1,-1.1,-1.2,-0.9,0.3,1.3,1.4,1.0,-0.3,-0.8,-0.9,-0.3,0.2,0.7,0.6,0.2],
[-1.0,-1.2,-1.5,-1.1,-0.6,0.4,1.0,2.0,1.2,0.2,-0.6,-0.7,-0.6,-0.2,0.4,1.0,1.3],
[-0.8,-0.2,-1.1,-1.3,-1.0,-0.5,0.8,1.1,0.9,-0.6,-0.9,-1.0,-1.1,-0.9,0.0,0.5,0.7],
[-1.4,-1.2,-1.3,-1.0,-0.7,0.0,1.5,1.7,1.3,0.4,-0.2,-0.6,-0.4,0.1,0.8,0.9,0.5],
[-1.1,-1.5,-1.2,-0.9,-0.5,0.6,1.2,1.9,2.1,1.3,0.1,-0.5,-0.7,-0.4,0.3,1.3,1.1],
[-1.3,-1.0,-1.4,-1.2,-1.0,-0.2,0.6,1.6,1.0,0.0,-0.7,-0.8,-0.8,-0.5,0.2,0.7,0.3]
];

const panels = [
  {series: seriesA, color:"#0000ff", label:"a", left:25.7, top:2.7,  labelX:169, labelY:294},
  {series: seriesB, color:"#00ff00", label:"b", left:372.3, top:2.7, labelX:516, labelY:294},
  {series: seriesC, color:"#ff0000", label:"c", left:25.7, top:326.7, labelX:170, labelY:617},
  {series: seriesD, color:"#ff00ff", label:"d", left:372.3, top:326.7, labelX:516, labelY:617},
  {series: seriesE, color:"#000000", label:"e", left:25.7, top:650, labelX:169, labelY:939}
];
const W = 306.7, H = 241.6;
const svg = d3.select("#c");
const font = "'Liberation Sans', Arial, sans-serif";
const inkA = "#555";

panels.forEach(p => {
  const g = svg.append("g").attr("transform", `translate(${p.left},${p.top})`);
  const x = d3.scaleLinear().domain([0,18]).range([0,W]);
  const y = d3.scaleLinear().domain([-4,4]).range([H,0]);
  const line = d3.line().x((d,i)=>x(i+1)).y(d=>y(d));
  g.append("g").selectAll("path").data(p.series).join("path")
    .attr("d", line).attr("fill","none").attr("stroke",p.color)
    .attr("stroke-width",0.9).attr("stroke-opacity", p.color==="#000000"?0.42:0.36);
  const style = a => {
    a.selectAll(".domain").attr("stroke",inkA).attr("stroke-width",1);
    a.selectAll(".tick line").attr("stroke",inkA).attr("stroke-width",0.8);
    a.selectAll("text").attr("font-family",font).attr("font-size",10).attr("fill","#555");
  };
  g.append("g").attr("transform",`translate(0,${H})`)
    .call(d3.axisBottom(x).tickValues(xTicks).tickSizeInner(-3).tickSizeOuter(0).tickPadding(5))
    .call(style);
  g.append("g").call(d3.axisLeft(y).tickValues(yTicks).tickSizeInner(-3).tickSizeOuter(0).tickPadding(4))
    .call(style);
  g.append("g").call(d3.axisTop(x).tickValues(xTicks).tickSizeInner(-3).tickSizeOuter(0).tickFormat(""))
    .call(style).selectAll(".domain").attr("stroke","#888");
  g.append("g").attr("transform",`translate(${W},0)`)
    .call(d3.axisRight(y).tickValues(yTicks).tickSizeInner(-3).tickSizeOuter(0).tickFormat(""))
    .call(style).selectAll(".domain").attr("stroke","#888");
  g.append("text").attr("x",W/2).attr("y",H+23).attr("text-anchor","middle")
    .attr("font-family",font).attr("font-size",9.5).attr("fill","#555").text(xTitle);
  g.append("text").attr("transform",`translate(-17,${H/2}) rotate(-90)`).attr("text-anchor","middle")
    .attr("font-family",font).attr("font-size",9.5).attr("fill","#555").text(yTitle);
  svg.append("text").attr("x",p.labelX).attr("y",p.labelY).attr("text-anchor","middle")
    .attr("font-family",font).attr("font-size",16).attr("font-weight","bold").attr("fill","#000").text(p.label);
});
</script></body></html>
